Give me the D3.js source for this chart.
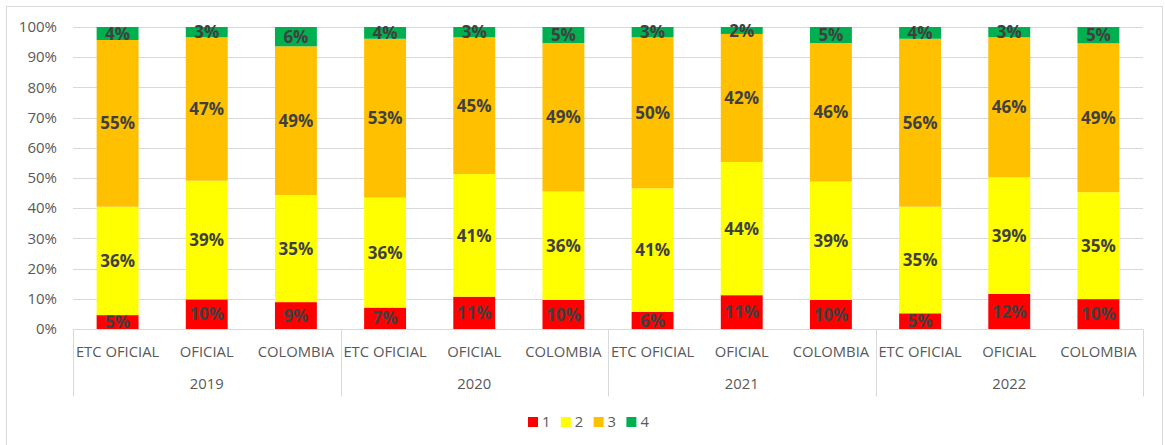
<!DOCTYPE html>
<html>
<head>
<meta charset="utf-8">
<script src="https://cdn.jsdelivr.net/npm/d3@7"></script>
<style>
  body { margin: 0; background: #fff; }
  svg { display: block; font-family: 'Open Sans', sans-serif; }
</style>
</head>
<body>
<figure style="margin:0"></figure>
<script>
const width = 1165
const height = 445
const margin = { left: 73, right: 22, top: 27, bottom: 116 }

// data
const years = ['2019', '2020', '2021', '2022']
const groups = ['ETC OFICIAL', 'OFICIAL', 'COLOMBIA']
const levels = ['1', '2', '3', '4']
const colors = ['#ff0000', '#ffff00', '#ffc000', '#00b050']
// one value per bar (year x group order), in percent
const level1 = [4.6, 9.8, 8.9, 7.1, 10.7, 9.6, 5.7, 11.2, 9.6, 5.2, 11.6, 9.9]
const level2 = [35.9, 39.2, 35.4, 36.4, 40.6, 35.9, 40.9, 44.1, 39.2, 35.3, 38.6, 35.4]
const level3 = [55.2, 47.4, 49.3, 52.6, 45.3, 49.2, 50.0, 42.4, 45.9, 55.6, 46.4, 49.3]
const level4 = [4.3, 3.4, 6.4, 3.9, 3.4, 5.3, 3.4, 2.3, 5.3, 3.9, 3.4, 5.4]
const yTicks = [0, 0.1, 0.2, 0.3, 0.4, 0.5, 0.6, 0.7, 0.8, 0.9, 1]

const series = [level1, level2, level3, level4]
const rows = []
years.forEach((y, i) => groups.forEach((g, j) => {
  const k = i * groups.length + j
  const row = { key: y + '|' + g, year: y, group: g }
  levels.forEach((l, s) => { row[l] = series[s][k] })
  rows.push(row)
}))

const stacked = d3.stack().keys(levels).offset(d3.stackOffsetExpand)(rows)

const svg = d3.select('figure').append('svg')
  .attr('width', width)
  .attr('height', height)

// outer chart border
svg.append('rect')
  .attr('x', 6.5).attr('y', 6.5)
  .attr('width', 1156).attr('height', 445)
  .attr('fill', 'none')
  .attr('stroke', '#d9d9d9')

const x = d3.scaleBand()
  .domain(rows.map(d => d.key))
  .range([margin.left, width - margin.right])
  .paddingInner(0.53)
  .paddingOuter(0.265)

const y = d3.scaleLinear()
  .domain([0, 1])
  .range([height - margin.bottom, margin.top])

// gridlines
svg.append('g')
  .selectAll('line')
  .data(yTicks)
  .join('line')
  .attr('x1', margin.left).attr('x2', width - margin.right)
  .attr('y1', d => Math.round(y(d)) + 0.5).attr('y2', d => Math.round(y(d)) + 0.5)
  .attr('stroke', '#d9d9d9')

// y labels
svg.append('g')
  .selectAll('text')
  .data(yTicks)
  .join('text')
  .attr('x', 57)
  .attr('y', d => y(d))
  .attr('dy', '0.35em')
  .attr('text-anchor', 'end')
  .attr('font-size', 15)
  .attr('fill', '#595959')
  .text(d3.format('.0%'))

// bars
const layer = svg.append('g')
  .selectAll('g')
  .data(stacked)
  .join('g')
  .attr('fill', (d, i) => colors[i])

layer.selectAll('rect')
  .data(d => d)
  .join('rect')
  .attr('x', d => x(d.data.key))
  .attr('width', x.bandwidth())
  .attr('y', d => y(d[1]))
  .attr('height', d => y(d[0]) - y(d[1]))

// data labels
layer.selectAll('text')
  .data((d, i) => d.map(p => ({ p, key: levels[i] })))
  .join('text')
  .attr('x', d => x(d.p.data.key) + x.bandwidth() / 2)
  .attr('y', d => y((d.p[0] + d.p[1]) / 2))
  .attr('dy', '0.36em')
  .attr('text-anchor', 'middle')
  .attr('font-size', 17)
  .attr('font-weight', 'bold')
  .attr('fill', '#404040')
  .text(d => Math.round(d.p.data[d.key]) + '%')

// category axis
const base = Math.round(y(0)) + 0.5
svg.append('line')
  .attr('x1', margin.left).attr('x2', width - margin.right)
  .attr('y1', base).attr('y2', base)
  .attr('stroke', '#d9d9d9')

const step = x.step()
const seps = d3.range(years.length + 1).map(i => margin.left + i * groups.length * step)
svg.append('g')
  .selectAll('line')
  .data(seps)
  .join('line')
  .attr('x1', d => Math.round(d) + 0.5).attr('x2', d => Math.round(d) + 0.5)
  .attr('y1', base).attr('y2', base + 67)
  .attr('stroke', '#d9d9d9')

svg.append('g')
  .selectAll('text')
  .data(rows)
  .join('text')
  .attr('x', d => x(d.key) + x.bandwidth() / 2)
  .attr('y', 352)
  .attr('dy', '0.35em')
  .attr('text-anchor', 'middle')
  .attr('font-size', 14.8)
  .attr('fill', '#595959')
  .text(d => d.group)

svg.append('g')
  .selectAll('text')
  .data(years)
  .join('text')
  .attr('x', (d, i) => margin.left + (i + 0.5) * groups.length * step)
  .attr('y', 384)
  .attr('dy', '0.35em')
  .attr('text-anchor', 'middle')
  .attr('font-size', 14.8)
  .attr('fill', '#595959')
  .text(d => d)

// legend
const legend = svg.append('g')
  .selectAll('g')
  .data(levels)
  .join('g')
  .attr('transform', (d, i) => `translate(${528 + i * 32.8},422)`)

legend.append('rect')
  .attr('x', 0).attr('y', -5)
  .attr('width', 10).attr('height', 10)
  .attr('fill', (d, i) => colors[i])

legend.append('text')
  .attr('x', 14)
  .attr('dy', '0.35em')
  .attr('font-size', 14.8)
  .attr('fill', '#595959')
  .text(d => d)
</script>
</body>
</html>
